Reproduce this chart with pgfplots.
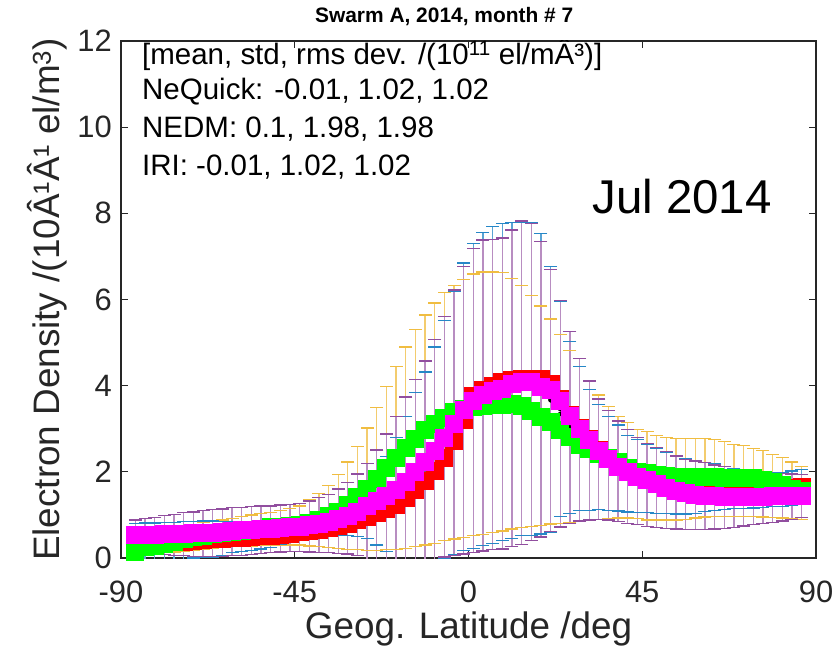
\documentclass[border=0pt]{standalone}
\usepackage{pgfplots}
\pgfplotsset{compat=1.18}
\usepackage{pgfplotstable}
\usepackage{fontspec}
\setmainfont{Liberation Sans}
\definecolor{mblue}{rgb}{0,0.447,0.741}
\definecolor{morange}{rgb}{0.929,0.694,0.125}
\definecolor{mpurple}{rgb}{0.494,0.184,0.556}
\definecolor{axgray}{rgb}{0.15,0.15,0.15}
\definecolor{mred}{rgb}{1,0,0}
\definecolor{mgreen}{rgb}{0,1,0}
\definecolor{mmag}{rgb}{1,0,1}

\pgfplotstableread{
lat ne nedm iri blo bhi olo ohi plo phi
-86.25 0.31 0.15 0.53 -0.15 0.80 0.05 0.45 0.15 0.88
-83.75 0.32 0.25 0.53 -0.12 0.81 0.08 0.50 0.12 0.92
-81.25 0.33 0.28 0.54 -0.10 0.81 0.10 0.55 0.10 0.94
-78.75 0.35 0.32 0.55 -0.08 0.82 0.12 0.60 0.08 0.98
-76.25 0.36 0.38 0.55 -0.05 0.83 0.14 0.65 0.06 1.01
-73.75 0.38 0.44 0.56 -0.03 0.84 0.16 0.70 0.05 1.05
-71.25 0.40 0.48 0.57 0.00 0.85 0.18 0.76 0.04 1.07
-68.75 0.42 0.52 0.58 0.01 0.86 0.20 0.82 0.03 1.10
-66.25 0.43 0.55 0.59 0.02 0.86 0.22 0.85 0.03 1.13
-63.75 0.45 0.58 0.61 0.06 0.85 0.24 0.88 0.04 1.14
-61.25 0.46 0.60 0.62 0.12 0.84 0.26 0.92 0.05 1.17
-58.75 0.47 0.63 0.64 0.15 0.84 0.27 0.96 0.06 1.18
-56.25 0.48 0.66 0.65 0.18 0.84 0.28 1.00 0.08 1.20
-53.75 0.50 0.68 0.67 0.21 0.85 0.29 1.03 0.10 1.21
-51.25 0.52 0.71 0.68 0.25 0.85 0.30 1.06 0.12 1.21
-48.75 0.54 0.73 0.70 0.32 0.84 0.30 1.10 0.14 1.23
-46.25 0.56 0.75 0.71 0.39 0.82 0.30 1.15 0.15 1.24
-43.75 0.60 0.77 0.72 0.40 0.84 0.30 1.21 0.15 1.26
-41.25 0.63 0.82 0.76 0.45 0.88 0.28 1.36 0.14 1.32
-38.75 0.66 0.88 0.80 0.50 0.90 0.26 1.50 0.13 1.40
-36.25 0.70 0.97 0.84 0.53 0.95 0.25 1.69 0.12 1.48
-33.75 0.74 1.07 0.90 0.53 1.05 0.22 1.93 0.11 1.60
-31.25 0.80 1.22 0.98 0.53 1.15 0.20 2.23 0.09 1.75
-28.75 0.88 1.41 1.07 0.50 1.30 0.19 2.58 0.06 1.95
-26.25 0.96 1.60 1.20 0.45 1.55 0.18 3.02 -0.05 2.20
-23.75 1.04 1.84 1.32 0.30 2.00 0.18 3.50 -0.15 2.51
-21.25 1.13 2.08 1.45 0.15 2.35 0.19 3.98 -0.20 2.88
-18.75 1.23 2.31 1.58 -0.10 2.79 0.20 4.44 -0.20 3.28
-16.25 1.40 2.56 1.77 -0.20 3.28 0.22 4.90 -0.20 3.74
-13.75 1.58 2.77 2.00 -0.20 3.84 0.26 5.31 -0.15 4.15
-11.25 1.79 2.98 2.23 -0.20 4.32 0.30 5.64 -0.10 4.57
-8.75 2.02 3.12 2.48 -0.10 4.90 0.34 5.92 -0.05 5.07
-6.25 2.33 3.26 2.79 0.00 5.52 0.40 6.16 0.02 5.61
-3.75 2.72 3.38 3.12 0.08 6.20 0.44 6.32 0.06 6.22
-1.25 3.20 3.46 3.43 0.17 6.85 0.47 6.47 0.09 6.76
1.25 3.76 3.50 3.64 0.22 7.30 0.53 6.59 0.13 7.19
3.75 3.89 3.52 3.78 0.29 7.56 0.55 6.64 0.16 7.38
6.25 4.00 3.54 3.87 0.34 7.70 0.60 6.64 0.19 7.40
8.75 4.09 3.56 3.93 0.40 7.77 0.63 6.62 0.21 7.43
11.25 4.12 3.58 4.03 0.46 7.78 0.67 6.49 0.26 7.61
13.75 4.16 3.53 4.09 0.52 7.80 0.70 6.33 0.32 7.82
16.25 4.16 3.42 4.08 0.53 7.78 0.73 6.09 0.40 7.77
18.75 4.16 3.28 3.98 0.56 7.53 0.76 5.85 0.49 7.35
21.25 4.03 3.15 3.89 0.60 6.77 0.79 5.55 0.62 6.70
23.75 3.68 2.97 3.64 0.96 5.95 0.80 5.19 0.72 5.97
26.25 3.32 2.82 3.30 1.04 5.02 0.83 4.81 0.80 5.25
28.75 3.02 2.63 3.00 1.10 4.44 0.86 4.45 0.86 4.63
31.25 2.76 2.52 2.73 1.11 3.91 0.88 4.09 0.88 4.11
33.75 2.50 2.42 2.48 1.12 3.57 0.90 3.78 0.90 3.69
36.25 2.30 2.32 2.29 1.11 3.28 0.92 3.51 0.88 3.42
38.75 2.13 2.22 2.12 1.09 3.09 0.93 3.29 0.84 3.18
41.25 2.01 2.09 2.00 1.07 2.85 0.93 3.14 0.80 2.99
43.75 1.89 2.00 1.88 1.05 2.75 0.92 2.99 0.77 2.80
46.25 1.81 1.97 1.80 1.05 2.64 0.88 2.93 0.73 2.66
48.75 1.72 1.93 1.71 1.04 2.55 0.88 2.85 0.71 2.57
51.25 1.64 1.90 1.63 1.03 2.46 0.88 2.80 0.69 2.47
53.75 1.57 1.89 1.55 1.02 2.37 0.88 2.78 0.67 2.37
56.25 1.52 1.88 1.50 1.02 2.30 0.90 2.78 0.66 2.29
58.75 1.50 1.88 1.47 1.04 2.26 0.93 2.78 0.66 2.25
61.25 1.50 1.88 1.44 1.08 2.22 0.95 2.77 0.66 2.21
63.75 1.50 1.87 1.43 1.11 2.18 0.96 2.75 0.67 2.16
66.25 1.49 1.86 1.42 1.13 2.13 0.97 2.70 0.69 2.12
68.75 1.48 1.85 1.42 1.15 2.08 0.97 2.64 0.71 2.06
71.25 1.47 1.85 1.42 1.15 2.03 0.97 2.61 0.74 2.05
73.75 1.47 1.85 1.42 1.16 2.01 0.96 2.54 0.77 2.00
76.25 1.48 1.82 1.42 1.17 1.99 0.95 2.49 0.80 1.98
78.75 1.50 1.76 1.43 1.19 1.98 0.94 2.41 0.83 1.96
81.25 1.54 1.70 1.43 1.20 1.99 0.93 2.33 0.86 1.96
83.75 1.62 1.61 1.44 1.22 2.02 0.91 2.23 0.90 1.95
86.25 1.65 1.55 1.44 1.24 2.05 0.90 2.12 0.94 1.93
}\data

\pgfplotsset{
  ebar/.style={only marks, mark=none, forget plot,
    error bars/.cd, y dir=both, y explicit, error mark=none,
    error bar style={color=#1, line width=1.3bp}},
  ecap/.style={only marks, mark=-, mark size=6.5bp, forget plot,
    restrict y to domain=0:12,
    mark options={color=#1, line width=1.3bp}},
}

\begin{document}
\begin{tikzpicture}
\useasboundingbox (-121bp,-104bp) rectangle (715bp,558bp);
\begin{axis}[
  at={(0,0)}, anchor=south west,
  scale only axis, width=695bp, height=517bp,
  xmin=-90, xmax=90, ymin=0, ymax=12,
  xtick={-90,-45,0,45,90}, ytick={0,2,4,6,8,10,12},
  tick align=inside, major tick length=7bp,
  axis line style={draw=axgray, line width=1.1bp},
  every tick/.style={draw=axgray, line width=1.1bp},
  /pgf/number format/assume math mode=true,
  ticklabel style={font=\fontsize{31}{31}\selectfont, text=axgray},
  xticklabel style={anchor=base, yshift=-44bp, inner sep=0pt},
  yticklabel style={anchor=east, inner sep=0pt, xshift=-9bp},
  xlabel={Geog. Latitude /deg},
  xlabel style={font=\fontsize{37}{37}\selectfont, text=axgray, at={(axis description cs:0.5,0)}, anchor=base, yshift=-80bp, inner sep=0pt},
  ylabel={Electron Density /(10Â¹Â¹ el/m\textsuperscript{3})},
  ylabel style={font=\fontsize{37}{37}\selectfont, text=axgray, at={(axis description cs:-0.0878,0.5)}, anchor=base, inner sep=0pt},
  title={\textbf{Swarm A, 2014, month \# 7}},
  title style={font=\fontsize{21}{21}\selectfont, at={(axis description cs:0.465,1)}, anchor=base, yshift=13bp, inner sep=0pt},
]
% error bars (vertical lines)
\addplot[ebar=morange!65!white]
  table[x=lat, y expr={(\thisrow{olo}+\thisrow{ohi})/2}, y error expr={(\thisrow{ohi}-\thisrow{olo})/2}] {\data};
\addplot[ebar=mblue!65!white]
  table[x=lat, y expr={(\thisrow{blo}+\thisrow{bhi})/2}, y error expr={(\thisrow{bhi}-\thisrow{blo})/2}] {\data};
\addplot[ebar=mpurple!55!white]
  table[x=lat, y expr={(\thisrow{plo}+\thisrow{phi})/2}, y error expr={(\thisrow{phi}-\thisrow{plo})/2}] {\data};
% caps
\addplot[ecap=morange!85!white] table[x=lat, y=ohi] {\data};
\addplot[ecap=morange!85!white] table[x=lat, y=olo] {\data};
\addplot[ecap=mblue!85!white] table[x=lat, y=bhi] {\data};
\addplot[ecap=mblue!85!white] table[x=lat, y=blo] {\data};
\addplot[ecap=mpurple!85!white] table[x=lat, y=phi] {\data};
\addplot[ecap=mpurple!85!white] table[x=lat, y=plo] {\data};
% markers
\addplot[only marks, mark=square*, mark size=8.5bp, color=mred, mark options={draw=mred, fill=mred, line width=0pt}] table[x=lat, y=ne] {\data};
\addplot[only marks, mark=square*, mark size=8.5bp, color=mgreen, mark options={draw=mgreen, fill=mgreen, line width=0pt}] table[x=lat, y=nedm] {\data};
\addplot[only marks, mark=square*, mark size=8.5bp, color=mmag, mark options={draw=mmag, fill=mmag, line width=0pt}] table[x=lat, y=iri] {\data};
% annotations
\node[anchor=base west, inner sep=0pt, font=\fontsize{29.6}{29.6}\selectfont] at (axis description cs:0.0302,0.9536) {[mean, std, rms dev. /(10\textsuperscript{11} el/mÂ³)]};
\node[anchor=base west, inner sep=0pt, font=\fontsize{29.6}{29.6}\selectfont] at (axis description cs:0.0302,0.886) {NeQuick: -0.01, 1.02, 1.02};
\node[anchor=base west, inner sep=0pt, font=\fontsize{29.6}{29.6}\selectfont] at (axis description cs:0.0302,0.8143) {NEDM: 0.1, 1.98, 1.98};
\node[anchor=base west, inner sep=0pt, font=\fontsize{29.6}{29.6}\selectfont] at (axis description cs:0.0302,0.7408) {IRI: -0.01, 1.02, 1.02};
\node[anchor=base west, inner sep=0pt, font=\fontsize{47.6}{47.6}\selectfont] at (axis description cs:0.678,0.667) {Jul 2014};
\end{axis}
\end{tikzpicture}
\end{document}
